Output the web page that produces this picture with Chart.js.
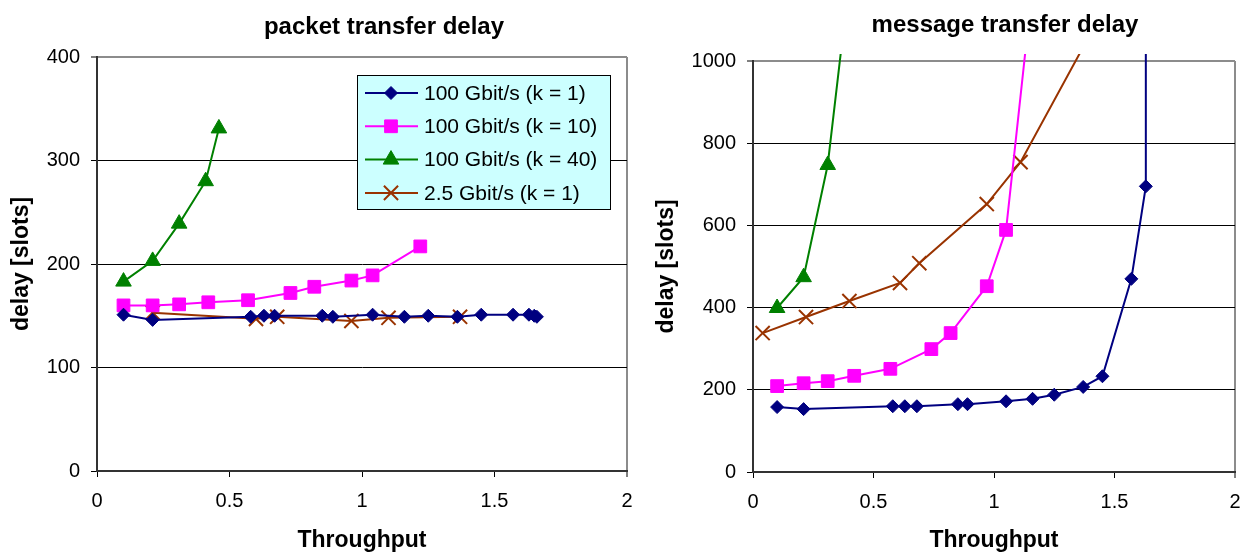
<!DOCTYPE html>
<html>
<head>
<meta charset="utf-8">
<script src="https://cdn.jsdelivr.net/npm/chart.js@4.4.1/dist/chart.umd.min.js"></script>
<style>
  html, body { margin: 0; padding: 0; background: #fff; }
  #wrap { position: relative; width: 1247px; height: 554px; }
  .box { position: absolute; top: 0; height: 554px; }
  #left { left: 0; width: 640px; }
  #right { left: 640px; width: 607px; }
</style>
</head>
<body>
<div id="wrap">
  <div class="box" id="left"><canvas id="packetChart"></canvas></div>
  <div class="box" id="right"><canvas id="messageChart"></canvas></div>
</div>
<script>
// series names and ticks
const seriesLabels = ['100 Gbit/s (k = 1)', '100 Gbit/s (k = 10)', '100 Gbit/s (k = 40)', '2.5 Gbit/s (k = 1)'];
const xTicks = [0, 0.5, 1, 1.5, 2];
const packetYTicks = [0, 100, 200, 300, 400];
const messageYTicks = [0, 200, 400, 600, 800, 1000];

// packet transfer delay (left)
const packetK1X = [0.10, 0.21, 0.58, 0.63, 0.67, 0.85, 0.89, 1.04, 1.16, 1.25, 1.36, 1.45, 1.57, 1.63, 1.65, 1.66];
const packetK1Y = [151, 146, 149, 150, 150, 150, 149, 151, 149, 150, 149, 151, 151, 151, 150, 149];
const packetK10X = [0.10, 0.21, 0.31, 0.42, 0.57, 0.73, 0.82, 0.96, 1.04, 1.22];
const packetK10Y = [160, 160, 161, 163, 165, 172, 178, 184, 189, 217];
const packetK40X = [0.10, 0.21, 0.31, 0.41, 0.46];
const packetK40Y = [183, 203, 239, 280, 331];
const packetSlowX = [0.21, 0.60, 0.68, 0.96, 1.10, 1.37];
const packetSlowY = [153, 147, 149, 145, 148, 149];

// message transfer delay (right)
const messageK1X = [0.10, 0.21, 0.58, 0.63, 0.68, 0.85, 0.89, 1.05, 1.16, 1.25, 1.37, 1.45, 1.57, 1.63, 1.63];
const messageK1Y = [158, 153, 160, 160, 160, 165, 165, 172, 178, 188, 207, 233, 470, 695, 3000];
const messageK10X = [0.10, 0.21, 0.31, 0.42, 0.57, 0.74, 0.82, 0.97, 1.05, 1.22];
const messageK10Y = [209, 216, 221, 234, 251, 299, 338, 452, 589, 1510];
const messageK40X = [0.10, 0.21, 0.31, 0.42, 0.47];
const messageK40Y = [399, 474, 747, 1300, 2500];
const messageSlowX = [0.04, 0.22, 0.40, 0.61, 0.69, 0.97, 1.11, 1.45];
const messageSlowY = [338, 377, 416, 460, 508, 652, 754, 1120];

Chart.defaults.font.family = '"Liberation Sans", Arial, sans-serif';
Chart.defaults.color = '#000';

const styles = [
  { color: '#000080', pointStyle: 'rectRot', radius: 6.5, bw: 1 },
  { color: '#ff00ff', pointStyle: 'rect', radius: 9, bw: 1 },
  { color: '#008000', pointStyle: 'triangle', radius: 9, bw: 1 },
  { color: '#993300', pointStyle: 'crossRot', radius: 10, bw: 2 }
];

function pts(xs, ys) {
  return xs.map((x, i) => ({ x: x, y: ys[i] }));
}

function makeDatasets(pairs, clip) {
  return pairs.map((p, i) => ({
    label: seriesLabels[i],
    data: pts(p[0], p[1]),
    borderColor: styles[i].color,
    backgroundColor: styles[i].color,
    pointBackgroundColor: styles[i].color,
    pointBorderColor: styles[i].color,
    pointStyle: styles[i].pointStyle,
    pointRadius: styles[i].radius,
    pointBorderWidth: styles[i].bw,
    borderWidth: 2,
    tension: 0,
    clip: clip
  }));
}

// chart title drawn a bit right of the plot centre, like the original
const sideTitle = {
  id: 'sideTitle',
  afterDraw(chart, args, opts) {
    const ctx = chart.ctx;
    const a = chart.chartArea;
    ctx.save();
    ctx.font = 'bold 24px "Liberation Sans", Arial, sans-serif';
    ctx.fillStyle = '#000';
    ctx.textAlign = 'center';
    ctx.textBaseline = 'middle';
    ctx.fillText(opts.text, (a.left + a.right) / 2 + opts.dx, opts.y);
    ctx.restore();
  }
};

// legend box inside the plot
const boxLegend = {
  id: 'boxLegend',
  afterDraw(chart, args, opts) {
    if (!opts.show) return;
    const ctx = chart.ctx;
    const a = chart.chartArea;
    const bx = a.left + opts.dx, by = a.top + opts.dy;
    ctx.save();
    ctx.fillStyle = '#ccffff';
    ctx.fillRect(bx, by, opts.w, opts.h);
    ctx.strokeStyle = '#000';
    ctx.lineWidth = 1;
    ctx.strokeRect(bx + 0.5, by + 0.5, opts.w, opts.h);
    chart.data.datasets.forEach((ds, i) => {
      const y = by + 18 + i * 33.3;
      ctx.strokeStyle = ds.borderColor;
      ctx.lineWidth = 2;
      ctx.beginPath();
      ctx.moveTo(bx + 8, y);
      ctx.lineTo(bx + 61, y);
      ctx.stroke();
      ctx.fillStyle = ds.pointBackgroundColor;
      ctx.strokeStyle = ds.pointBorderColor;
      ctx.lineWidth = ds.pointBorderWidth;
      Chart.helpers.drawPoint(ctx, {
        pointStyle: ds.pointStyle, radius: ds.pointRadius,
        borderWidth: ds.pointBorderWidth, rotation: 0
      }, bx + 34, y);
      ctx.fillStyle = '#000';
      ctx.font = '21px "Liberation Sans", Arial, sans-serif';
      ctx.textAlign = 'left';
      ctx.textBaseline = 'middle';
      ctx.fillText(ds.label, bx + 67, y + 1);
    });
    ctx.restore();
  }
};

function makeScales(yTicks, yMax, yWidth, yTitlePad, xHeight) {
  return {
    x: {
      type: 'linear',
      min: 0,
      max: 2,
      afterBuildTicks: s => { s.ticks = xTicks.map(v => ({ value: v })); },
      afterFit: s => { s.height = xHeight; s.paddingLeft = 0; s.paddingRight = 0; },
      ticks: { callback: v => String(v), font: { size: 20 }, padding: 12, maxRotation: 0 },
      grid: {
        color: c => (c.tick && c.tick.value === 2) ? '#8c8c8c' : 'rgba(0,0,0,0)',
        lineWidth: c => (c.tick && c.tick.value === 2) ? 2 : 1,
        tickColor: '#000',
        tickLength: 6,
        tickWidth: 1
      },
      border: { color: '#333', width: 2 },
      title: {
        display: true,
        text: 'Throughput',
        font: { size: 23, weight: 'bold' },
        padding: { top: 0, bottom: 0 }
      }
    },
    y: {
      type: 'linear',
      min: 0,
      max: yMax,
      afterBuildTicks: s => { s.ticks = yTicks.map(v => ({ value: v })); },
      afterFit: s => { s.width = yWidth; },
      ticks: { callback: v => String(v), font: { size: 20 }, padding: 11 },
      grid: {
        color: c => {
          if (!c.tick) return '#000';
          if (c.tick.value === yMax) return '#8c8c8c';
          if (c.tick.value === 0) return 'rgba(0,0,0,0)';
          return '#000';
        },
        lineWidth: c => (c.tick && c.tick.value === yMax) ? 2 : 1,
        tickColor: '#000',
        tickLength: 6,
        tickWidth: 1
      },
      border: { color: '#333', width: 2 },
      title: {
        display: true,
        text: 'delay [slots]',
        font: { size: 23, weight: 'bold' },
        padding: { top: yTitlePad, bottom: 0 }
      }
    }
  };
}

new Chart(document.getElementById('packetChart'), {
  type: 'line',
  data: {
    datasets: makeDatasets([
      [packetK1X, packetK1Y],
      [packetK10X, packetK10Y],
      [packetK40X, packetK40Y],
      [packetSlowX, packetSlowY]
    ], 10)
  },
  options: {
    responsive: true,
    maintainAspectRatio: false,
    animation: false,
    layout: { padding: { top: 57, right: 13, bottom: 0, left: 0 } },
    scales: makeScales(packetYTicks, 400, 97, 8, 83),
    plugins: {
      legend: { display: false },
      tooltip: { enabled: false },
      sideTitle: { text: 'packet transfer delay', dx: 22, y: 27 },
      boxLegend: { show: true, dx: 260, dy: 18, w: 253, h: 134 }
    }
  },
  plugins: [sideTitle, boxLegend]
});

new Chart(document.getElementById('messageChart'), {
  type: 'line',
  data: {
    datasets: makeDatasets([
      [messageK1X, messageK1Y],
      [messageK10X, messageK10Y],
      [messageK40X, messageK40Y],
      [messageSlowX, messageSlowY]
    ], { left: 10, top: 7, right: 10, bottom: 10 })
  },
  options: {
    responsive: true,
    maintainAspectRatio: false,
    animation: false,
    layout: { padding: { top: 61, right: 7, bottom: 0, left: 0 } },
    scales: makeScales(messageYTicks, 1000, 113, 13, 82),
    plugins: {
      legend: { display: false },
      tooltip: { enabled: false },
      sideTitle: { text: 'message transfer delay', dx: 11, y: 25 },
      boxLegend: { show: false }
    }
  },
  plugins: [sideTitle, boxLegend]
});
</script>
</body>
</html>
